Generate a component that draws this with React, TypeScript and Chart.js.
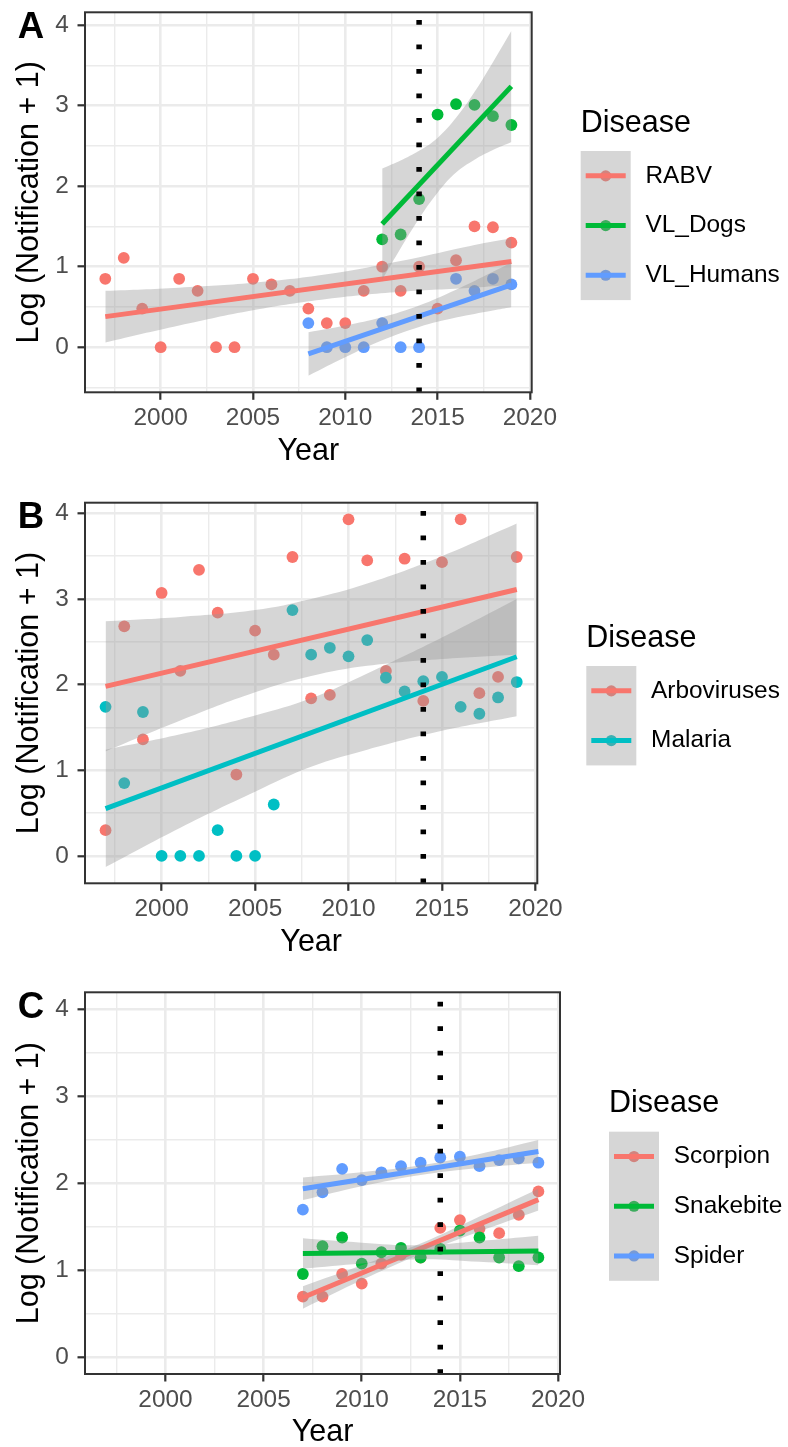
import React, { useEffect, useRef } from 'react';
import { Chart, registerables } from 'chart.js';

Chart.register(...registerables);

const FONT = '"Liberation Sans", Arial, Helvetica, sans-serif';

// ---------- shared axes ----------
const X_MAJOR = [2000, 2005, 2010, 2015, 2020];
const X_MINOR = [1997.5, 2002.5, 2007.5, 2012.5, 2017.5];
const Y_MAJOR = [0, 1, 2, 3, 4];
const Y_MINOR = [-0.5, 0.5, 1.5, 2.5, 3.5];
const X_MIN = 1995.9;
const X_MAX = 2020.1;
const CUTOFF_YEAR = 2014;
const X_TITLE = 'Year';
const Y_TITLE = 'Log (Notification + 1)';
const LEGEND_TITLE = 'Disease';

// ---------- Panel A ----------
const A_RABV_YEARS = [1997, 1998, 1999, 2000, 2001, 2002, 2003, 2004, 2005, 2006, 2007, 2008, 2009, 2010, 2011, 2012, 2013, 2014, 2015, 2016, 2017, 2018, 2019];
const A_RABV = [0.85, 1.11, 0.48, 0, 0.85, 0.7, 0, 0, 0.85, 0.78, 0.7, 0.48, 0.3, 0.3, 0.7, 1.0, 0.7, 1.0, 0.48, 1.08, 1.5, 1.49, 1.3];
const A_DOGS_YEARS = [2012, 2013, 2014, 2015, 2016, 2017, 2018, 2019];
const A_DOGS = [1.34, 1.4, 1.84, 2.89, 3.02, 3.01, 2.87, 2.76];
const A_HUM_YEARS = [2008, 2009, 2010, 2011, 2012, 2013, 2014, 2016, 2017, 2018, 2019];
const A_HUM = [0.3, 0, 0, 0, 0.3, 0, 0, 0.85, 0.7, 0.85, 0.78];

const A_RABV_FIT_YEARS = [1997, 2019];
const A_RABV_FIT = [0.38, 1.065];
const A_RABV_BAND_YEARS = [1997, 2001, 2005, 2009, 2013, 2017, 2019];
const A_RABV_BAND_HI = [0.7, 0.74, 0.8, 0.905, 1.07, 1.27, 1.355];
const A_RABV_BAND_LO = [0.06, 0.27, 0.46, 0.6, 0.69, 0.74, 0.775];

const A_DOGS_FIT_YEARS = [2012, 2019];
const A_DOGS_FIT = [1.53, 3.24];
const A_DOGS_BAND_YEARS = [2012, 2013, 2014, 2015, 2016, 2017, 2018, 2019];
const A_DOGS_BAND_HI = [2.22, 2.32, 2.44, 2.6, 2.85, 3.17, 3.54, 3.93];
const A_DOGS_BAND_LO = [0.84, 1.23, 1.6, 1.92, 2.17, 2.33, 2.45, 2.55];

const A_HUM_FIT_YEARS = [2008, 2019];
const A_HUM_FIT = [-0.083, 0.775];
const A_HUM_BAND_YEARS = [2008, 2010, 2012, 2014, 2016, 2018, 2019];
const A_HUM_BAND_HI = [0.187, 0.271, 0.373, 0.518, 0.714, 0.937, 1.053];
const A_HUM_BAND_LO = [-0.353, -0.125, 0.085, 0.252, 0.368, 0.457, 0.497];

// ---------- Panel B ----------
const B_YEARS = [1997, 1998, 1999, 2000, 2001, 2002, 2003, 2004, 2005, 2006, 2007, 2008, 2009, 2010, 2011, 2012, 2013, 2014, 2015, 2016, 2017, 2018, 2019];
const B_ARBO = [0.3, 2.68, 1.36, 3.07, 2.16, 3.34, 2.84, 0.95, 2.63, 2.35, 3.49, 1.84, 1.88, 3.93, 3.45, 2.16, 3.47, 1.81, 3.43, 3.93, 1.9, 2.09, 3.49];
const B_MAL = [1.74, 0.85, 1.68, 0, 0, 0, 0.3, 0, 0, 0.6, 2.87, 2.35, 2.43, 2.33, 2.52, 2.08, 1.92, 2.04, 2.09, 1.74, 1.66, 1.85, 2.03];

const B_FIT_YEARS = [1997, 2019];
const B_ARBO_FIT = [1.98, 3.11];
const B_MAL_FIT = [0.553, 2.325];
const B_BAND_YEARS = [1997, 2001, 2005, 2008, 2011, 2015, 2019];
const B_ARBO_BAND_HI = [2.74, 2.79, 2.87, 3.0, 3.18, 3.5, 3.88];
const B_ARBO_BAND_LO = [1.22, 1.58, 1.91, 2.1, 2.22, 2.3, 2.35];
const B_MAL_BAND_HI = [1.24, 1.42, 1.64, 1.84, 2.13, 2.55, 3.0];
const B_MAL_BAND_LO = [-0.13, 0.33, 0.75, 1.04, 1.24, 1.46, 1.63];

// ---------- Panel C ----------
const C_YEARS = [2007, 2008, 2009, 2010, 2011, 2012, 2013, 2014, 2015, 2016, 2017, 2018, 2019];
const C_SCORPION = [0.7, 0.7, 0.96, 0.85, 1.08, 1.18, 1.15, 1.49, 1.58, 1.48, 1.43, 1.64, 1.91];
const C_SNAKE = [0.96, 1.28, 1.38, 1.08, 1.21, 1.26, 1.15, 1.25, 1.46, 1.38, 1.15, 1.05, 1.15];
const C_SPIDER = [1.7, 1.9, 2.17, 2.04, 2.13, 2.2, 2.24, 2.3, 2.31, 2.2, 2.27, 2.29, 2.24];

const C_FIT_YEARS = [2007, 2019];
const C_SCORPION_FIT = [0.69, 1.816];
const C_SNAKE_FIT = [1.195, 1.226];
const C_SPIDER_FIT = [1.94, 2.37];
const C_BAND_YEARS = [2007, 2010, 2013, 2016, 2019];
const C_SCORPION_BAND_HI = [0.82, 1.06, 1.31, 1.62, 1.94];
const C_SCORPION_BAND_LO = [0.56, 0.89, 1.19, 1.45, 1.69];
const C_SNAKE_BAND_HI = [1.37, 1.32, 1.29, 1.34, 1.4];
const C_SNAKE_BAND_LO = [1.02, 1.08, 1.13, 1.1, 1.06];
const C_SPIDER_BAND_HI = [2.07, 2.13, 2.21, 2.34, 2.5];
const C_SPIDER_BAND_LO = [1.81, 1.97, 2.1, 2.18, 2.24];

// ---------- types ----------
interface Series {
  name: string;
  color: string;
  years: number[];
  values: number[];
  fitYears: number[];
  fit: number[];
  bandYears: number[];
  bandHi: number[];
  bandLo: number[];
}

interface Panel {
  tag: string;
  yMin: number;
  yMax: number;
  series: Series[];
}

interface Layout {
  top: number;
  height: number;
  plotLeft: number;
  plotTop: number;
  plotRight: number;
  plotBottom: number;
  legendTop: number;
  tagBaseline: number;
}

const RED = '#F8766D';
const GREEN = '#00BA38';
const BLUE = '#619CFF';
const TEAL = '#00BFC4';

const PANELS: Panel[] = [
  {
    tag: 'A', yMin: -0.56, yMax: 4.16,
    series: [
      { name: 'RABV', color: RED, years: A_RABV_YEARS, values: A_RABV, fitYears: A_RABV_FIT_YEARS, fit: A_RABV_FIT, bandYears: A_RABV_BAND_YEARS, bandHi: A_RABV_BAND_HI, bandLo: A_RABV_BAND_LO },
      { name: 'VL_Dogs', color: GREEN, years: A_DOGS_YEARS, values: A_DOGS, fitYears: A_DOGS_FIT_YEARS, fit: A_DOGS_FIT, bandYears: A_DOGS_BAND_YEARS, bandHi: A_DOGS_BAND_HI, bandLo: A_DOGS_BAND_LO },
      { name: 'VL_Humans', color: BLUE, years: A_HUM_YEARS, values: A_HUM, fitYears: A_HUM_FIT_YEARS, fit: A_HUM_FIT, bandYears: A_HUM_BAND_YEARS, bandHi: A_HUM_BAND_HI, bandLo: A_HUM_BAND_LO },
    ],
  },
  {
    tag: 'B', yMin: -0.32, yMax: 4.124,
    series: [
      { name: 'Arboviruses', color: RED, years: B_YEARS, values: B_ARBO, fitYears: B_FIT_YEARS, fit: B_ARBO_FIT, bandYears: B_BAND_YEARS, bandHi: B_ARBO_BAND_HI, bandLo: B_ARBO_BAND_LO },
      { name: 'Malaria', color: TEAL, years: B_YEARS, values: B_MAL, fitYears: B_FIT_YEARS, fit: B_MAL_FIT, bandYears: B_BAND_YEARS, bandHi: B_MAL_BAND_HI, bandLo: B_MAL_BAND_LO },
    ],
  },
  {
    tag: 'C', yMin: -0.19, yMax: 4.2,
    series: [
      { name: 'Scorpion', color: RED, years: C_YEARS, values: C_SCORPION, fitYears: C_FIT_YEARS, fit: C_SCORPION_FIT, bandYears: C_BAND_YEARS, bandHi: C_SCORPION_BAND_HI, bandLo: C_SCORPION_BAND_LO },
      { name: 'Snakebite', color: GREEN, years: C_YEARS, values: C_SNAKE, fitYears: C_FIT_YEARS, fit: C_SNAKE_FIT, bandYears: C_BAND_YEARS, bandHi: C_SNAKE_BAND_HI, bandLo: C_SNAKE_BAND_LO },
      { name: 'Spider', color: BLUE, years: C_YEARS, values: C_SPIDER, fitYears: C_FIT_YEARS, fit: C_SPIDER_FIT, bandYears: C_BAND_YEARS, bandHi: C_SPIDER_BAND_HI, bandLo: C_SPIDER_BAND_LO },
    ],
  },
];

const LAYOUTS: Layout[] = [
  { top: 0, height: 480, plotLeft: 85, plotTop: 12.3, plotRight: 531.7, plotBottom: 392.3, legendTop: 151, tagBaseline: 38.2 },
  { top: 480, height: 490, plotLeft: 85, plotTop: 22.7, plotRight: 537.3, plotBottom: 403.3, legendTop: 186, tagBaseline: 48.2 },
  { top: 970, height: 490, plotLeft: 85, plotTop: 22.3, plotRight: 560, plotBottom: 404, legendTop: 161.7, tagBaseline: 48.2 },
];

const W = 788;
const GRID = '#EBEBEB';
const DARK = '#333333';
const TICK_TEXT = '#4D4D4D';
const RIBBON = 'rgba(153,153,153,0.4)';
const TITLE_SIZE = 30.5;
const TICK_SIZE = 24.4;

const toXY = (xs: number[], ys: number[]) => xs.map((x, i) => ({ x, y: ys[i] }));

function makeConfig(panel: Panel, lay: Layout): any {
  const datasets: any[] = [];
  panel.series.forEach((s, i) => {
    datasets.push({
      type: 'line', label: s.name, data: toXY(s.years, s.values), showLine: false,
      pointRadius: 5.9, pointHoverRadius: 5.9, pointBorderWidth: 0,
      pointBackgroundColor: s.color, pointBorderColor: s.color,
      borderColor: s.color, backgroundColor: s.color, order: 100 - i,
    });
  });
  panel.series.forEach((s, i) => {
    datasets.push({
      type: 'line', label: s.name + ' band hi', data: toXY(s.bandYears, s.bandHi),
      borderWidth: 0, borderColor: 'rgba(0,0,0,0)', backgroundColor: RIBBON,
      pointRadius: 0, tension: 0.4, fill: '+1', order: 50 - 3 * i,
    });
    datasets.push({
      type: 'line', label: s.name + ' band lo', data: toXY(s.bandYears, s.bandLo),
      borderWidth: 0, borderColor: 'rgba(0,0,0,0)', backgroundColor: 'rgba(0,0,0,0)',
      pointRadius: 0, tension: 0.4, fill: false, order: 50 - 3 * i,
    });
    datasets.push({
      type: 'line', label: s.name + ' fit', data: toXY(s.fitYears, s.fit),
      borderWidth: 5, borderColor: s.color, pointRadius: 0, fill: false,
      order: 49 - 3 * i, borderCapStyle: 'butt',
    });
  });
  datasets.push({
    type: 'line', label: 'cutoff', data: toXY([CUTOFF_YEAR, CUTOFF_YEAR], [panel.yMin, panel.yMax]),
    borderWidth: 5.5, borderColor: '#000000', borderDash: [4.7, 19.8], pointRadius: 0,
    fill: false, order: 0, borderCapStyle: 'butt',
  });

  const xTicks = [...X_MINOR, ...X_MAJOR].sort((a, b) => a - b);
  const yTicks = [...Y_MINOR, ...Y_MAJOR].filter((v) => v > panel.yMin && v < panel.yMax).sort((a, b) => a - b);
  const xTitleLH = TITLE_SIZE * 1.2;
  const xTitlePadBottom = lay.height - lay.plotBottom - 59 - xTitleLH / 2;

  const decor = {
    id: 'decor' + panel.tag,
    afterDraw(chart: any) {
      const ctx = chart.ctx as CanvasRenderingContext2D;
      const a = chart.chartArea;
      ctx.save();
      ctx.strokeStyle = DARK;
      ctx.lineWidth = 2;
      ctx.setLineDash([]);
      ctx.strokeRect(a.left, a.top, a.right - a.left, a.bottom - a.top);

      ctx.fillStyle = '#000';
      ctx.font = `bold 36.6px ${FONT}`;
      ctx.textAlign = 'center';
      ctx.textBaseline = 'alphabetic';
      ctx.fillText(panel.tag, 31, lay.tagBaseline);

      const bx = a.right + 49;
      const by = lay.legendTop;
      const kw = 50;
      const kh = 49.7;
      const n = panel.series.length;
      ctx.textAlign = 'left';
      ctx.font = `${TITLE_SIZE}px ${FONT}`;
      ctx.fillText(LEGEND_TITLE, bx, by - 19.3);
      panel.series.forEach((s, i) => {
        const cy = by + kh * (i + 0.5);
        ctx.fillStyle = s.color;
        ctx.beginPath();
        ctx.arc(bx + kw / 2, cy, 5.6, 0, Math.PI * 2);
        ctx.fill();
      });
      ctx.fillStyle = RIBBON;
      ctx.fillRect(bx, by, kw, kh * n);
      panel.series.forEach((s, i) => {
        const cy = by + kh * (i + 0.5);
        ctx.strokeStyle = s.color;
        ctx.lineWidth = 5;
        ctx.lineCap = 'butt';
        ctx.beginPath();
        ctx.moveTo(bx + 5, cy);
        ctx.lineTo(bx + 45, cy);
        ctx.stroke();
        ctx.fillStyle = '#000';
        ctx.font = `${TICK_SIZE}px ${FONT}`;
        ctx.textBaseline = 'middle';
        ctx.fillText(s.name, bx + 64.8, cy);
      });
      ctx.restore();
    },
  };

  return {
    type: 'line',
    data: { datasets },
    options: {
      animation: false,
      responsive: false,
      devicePixelRatio: 1,
      events: [],
      layout: { padding: { left: 0, top: lay.plotTop, right: W - lay.plotRight, bottom: 0 } },
      plugins: { legend: { display: false }, tooltip: { enabled: false }, title: { display: false } },
      scales: {
        x: {
          type: 'linear', min: X_MIN, max: X_MAX,
          afterBuildTicks: (s: any) => { s.ticks = xTicks.map((v) => ({ value: v })); },
          afterFit: (s: any) => {
            s.height = lay.height - lay.plotBottom;
            s.paddingLeft = 0; s.paddingRight = 0; s.paddingTop = 0; s.paddingBottom = 0;
          },
          ticks: {
            autoSkip: false, maxRotation: 0, minRotation: 0, padding: 4, color: TICK_TEXT,
            font: { family: FONT, size: TICK_SIZE },
            callback: (v: number) => (X_MAJOR.includes(v) ? String(v) : ''),
          },
          grid: {
            color: GRID,
            lineWidth: (c: any) => (c.tick && X_MAJOR.includes(c.tick.value) ? 2.6 : 1.4),
            drawTicks: true, tickLength: 7.5, tickWidth: 2.2,
            tickColor: (c: any) => (c.tick && X_MAJOR.includes(c.tick.value) ? DARK : 'rgba(0,0,0,0)'),
          },
          border: { display: false },
          title: {
            display: true, text: X_TITLE, color: '#000',
            font: { family: FONT, size: TITLE_SIZE, lineHeight: 1.2 },
            padding: { top: 0, bottom: xTitlePadBottom },
          },
        },
        y: {
          type: 'linear', min: panel.yMin, max: panel.yMax,
          afterBuildTicks: (s: any) => { s.ticks = yTicks.map((v) => ({ value: v })); },
          afterFit: (s: any) => {
            s.width = lay.plotLeft;
            s.paddingLeft = 0; s.paddingRight = 0; s.paddingTop = 0; s.paddingBottom = 0;
          },
          ticks: {
            padding: 8.8, color: TICK_TEXT,
            font: { family: FONT, size: TICK_SIZE },
            callback: (v: number) => (Y_MAJOR.includes(v) ? String(v) : ''),
          },
          grid: {
            color: GRID,
            lineWidth: (c: any) => (c.tick && Y_MAJOR.includes(c.tick.value) ? 2.6 : 1.4),
            drawTicks: true, tickLength: 7.5, tickWidth: 2.2,
            tickColor: (c: any) => (c.tick && Y_MAJOR.includes(c.tick.value) ? DARK : 'rgba(0,0,0,0)'),
          },
          border: { display: false },
          title: {
            display: true, text: Y_TITLE, color: '#000',
            font: { family: FONT, size: TITLE_SIZE, lineHeight: 1.2 },
            padding: { top: 11.4, bottom: 0 },
          },
        },
      },
    },
    plugins: [decor],
  };
}

function PanelChart({ panel, lay }: { panel: Panel; lay: Layout }) {
  const ref = useRef<HTMLCanvasElement | null>(null);
  useEffect(() => {
    if (!ref.current) return;
    const chart = new Chart(ref.current, makeConfig(panel, lay));
    return () => chart.destroy();
  }, [panel, lay]);
  return (
    <canvas
      ref={ref}
      width={W}
      height={lay.height}
      style={{ position: 'absolute', left: 0, top: lay.top, width: W, height: lay.height, display: 'block' }}
    />
  );
}

export default function App() {
  return (
    <div style={{ position: 'absolute', left: 0, top: 0, width: W, height: 1447, overflow: 'hidden', background: '#fff' }}>
      {PANELS.map((p, i) => (
        <PanelChart key={p.tag} panel={p} lay={LAYOUTS[i]} />
      ))}
    </div>
  );
}
